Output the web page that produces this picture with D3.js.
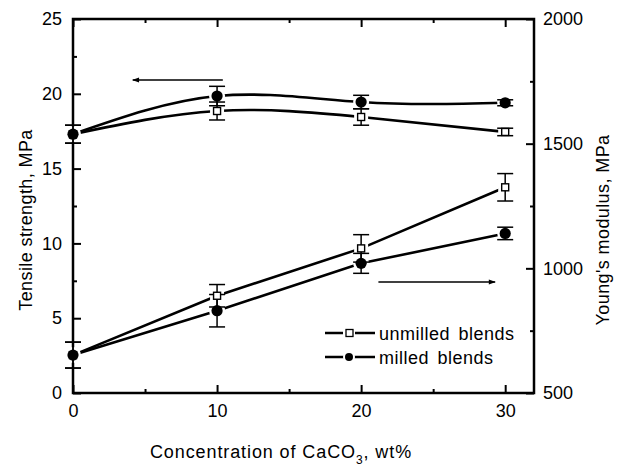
<!DOCTYPE html>
<html>
<head>
<meta charset="utf-8">
<script src="https://cdn.jsdelivr.net/npm/d3@7"></script>
<style>
  body { margin: 0; background: #fff; }
  svg { font-family: "Liberation Sans", Arial, sans-serif; }
</style>
</head>
<body>
<div id="chart"></div>
<script>
// CaCO3 content of the blends, wt%
let concentration = [0, 10, 20, 30];

// tensile strength (left axis), MPa
let tensileUnmilled    = [17.3, 18.85, 18.45, 17.45];
let tensileUnmilledErr = [0.6, 0.6, 0.55, 0.25];
let tensileMilled      = [17.3, 19.85, 19.45, 19.4];
let tensileMilledErr   = [0.6, 0.65, 0.45, 0.2];

// Young's modulus (right axis), MPa
let modulusUnmilled    = [652, 890, 1080, 1325];
let modulusUnmilledErr = [52, 45, 55, 55];
let modulusMilled      = [652, 830, 1020, 1140];
let modulusMilledErr   = [52, 65, 40, 25];

let xTicks = [0, 10, 20, 30];
let leftTicks = [0, 5, 10, 15, 20, 25];
let rightTicks = [500, 1000, 1500, 2000];

let legendLabels = ["unmilled blends", "milled blends"];

// arrows pointing to the axis each pair of curves belongs to: [x0, x1, value]
let tensileArrow = [10.4, 4.15, 20.92];
let modulusArrow = [21.2, 29.3, 945];

let width = 621, height = 468;
let margin = {top: 19, right: 87, bottom: 75, left: 73};

let svg = d3.select("#chart").append("svg")
    .attr("width", width)
    .attr("height", height);

svg.append("defs").append("marker")
    .attr("id", "head")
    .attr("viewBox", "0 0 10 10")
    .attr("refX", 9).attr("refY", 5)
    .attr("markerWidth", 9).attr("markerHeight", 7)
    .attr("markerUnits", "userSpaceOnUse")
    .attr("orient", "auto")
    .append("path")
    .attr("d", "M0,1.5 L10,5 L0,8.5 Z")
    .attr("fill", "#000");

let x = d3.scaleLinear().domain([0, 32]).range([margin.left, width - margin.right]);
let yL = d3.scaleLinear().domain([0, 25]).range([height - margin.bottom, margin.top]);
let yR = d3.scaleLinear().domain([500, 2000]).range([height - margin.bottom, margin.top]);

let tickFont = "18px";

function styleAxis(g) {
    g.select(".domain").remove();
    g.selectAll(".tick line").attr("stroke", "#000").attr("stroke-width", 2);
    g.selectAll("text").attr("fill", "#000").style("font-size", tickFont);
}

// bottom / top
svg.append("g")
    .attr("transform", `translate(0,${yL(0)})`)
    .call(d3.axisBottom(x).tickValues(xTicks).tickSize(-8).tickPadding(11))
    .call(styleAxis);
svg.append("g")
    .attr("transform", `translate(0,${yL(0)})`)
    .call(d3.axisBottom(x).tickValues([5, 15, 25]).tickSize(-4).tickFormat(""))
    .call(styleAxis);
svg.append("g")
    .attr("transform", `translate(0,${yL(25)})`)
    .call(d3.axisTop(x).tickValues(xTicks).tickSize(-8).tickFormat(""))
    .call(styleAxis);
svg.append("g")
    .attr("transform", `translate(0,${yL(25)})`)
    .call(d3.axisTop(x).tickValues([5, 15, 25]).tickSize(-4).tickFormat(""))
    .call(styleAxis);

// left
svg.append("g")
    .attr("transform", `translate(${x(0)},0)`)
    .call(d3.axisLeft(yL).tickValues(leftTicks).tickSize(-8).tickPadding(11))
    .call(styleAxis);
svg.append("g")
    .attr("transform", `translate(${x(0)},0)`)
    .call(d3.axisLeft(yL).tickValues([2.5, 7.5, 12.5, 17.5, 22.5]).tickSize(-4).tickFormat(""))
    .call(styleAxis);

// right
svg.append("g")
    .attr("transform", `translate(${x(32)},0)`)
    .call(d3.axisRight(yR).tickValues(rightTicks).tickSize(-8).tickPadding(9).tickFormat(d3.format("d")))
    .call(styleAxis);
svg.append("g")
    .attr("transform", `translate(${x(32)},0)`)
    .call(d3.axisRight(yR).tickValues([750, 1250, 1750]).tickSize(-4).tickFormat(""))
    .call(styleAxis);

// frame
svg.append("rect")
    .attr("x", x(0)).attr("y", yL(25))
    .attr("width", x(32) - x(0)).attr("height", yL(0) - yL(25))
    .attr("fill", "none")
    .attr("stroke", "#000")
    .attr("stroke-width", 2.5);

// axis titles
svg.append("text")
    .attr("transform", `translate(32,${(yL(0) + yL(25)) / 2 + 14}) rotate(-90)`)
    .attr("text-anchor", "middle")
    .style("font-size", "18px")
    .style("letter-spacing", "0.4px")
    .text("Tensile strength, MPa");

svg.append("text")
    .attr("transform", `translate(609,${(yL(0) + yL(25)) / 2 + 24}) rotate(-90)`)
    .attr("text-anchor", "middle")
    .style("font-size", "18px")
    .style("letter-spacing", "0.4px")
    .text("Young's modulus, MPa");

let xTitle = svg.append("text")
    .attr("x", 281).attr("y", 458)
    .attr("text-anchor", "middle")
    .style("font-size", "18px")
    .style("letter-spacing", "0.9px");
xTitle.append("tspan").text("Concentration of CaCO");
xTitle.append("tspan").attr("dy", 6).style("font-size", "12px").text("3");
xTitle.append("tspan").attr("dy", -6).text(", wt%");

// series
let series = [
    {vals: tensileUnmilled, err: tensileUnmilledErr, y: yL, filled: false, curve: d3.curveNatural},
    {vals: tensileMilled,   err: tensileMilledErr,   y: yL, filled: true,  curve: d3.curveNatural},
    {vals: modulusUnmilled, err: modulusUnmilledErr, y: yR, filled: false, curve: d3.curveLinear},
    {vals: modulusMilled,   err: modulusMilledErr,   y: yR, filled: true,  curve: d3.curveLinear}
];

series.forEach(function(s) {
    let line = d3.line()
        .x((d, i) => x(concentration[i]))
        .y(d => s.y(d))
        .curve(s.curve);
    svg.append("path")
        .datum(s.vals)
        .attr("d", line)
        .attr("fill", "none")
        .attr("stroke", "#000")
        .attr("stroke-width", 2.6);
});

// white halo so the curves stop short of the markers
series.forEach(function(s) {
    s.vals.forEach(function(v, i) {
        let cx = x(concentration[i]), cy = s.y(v);
        if (s.filled) {
            svg.append("circle").attr("cx", cx).attr("cy", cy).attr("r", 8).attr("fill", "#fff");
        } else {
            svg.append("rect").attr("x", cx - 7).attr("y", cy - 7).attr("width", 14).attr("height", 14).attr("fill", "#fff");
        }
    });
});

// error bars
series.forEach(function(s) {
    s.vals.forEach(function(v, i) {
        let cx = x(concentration[i]);
        let top = s.y(v + s.err[i]), bot = s.y(v - s.err[i]);
        let g = svg.append("g").attr("stroke", "#000").attr("stroke-width", 1.5);
        g.append("line").attr("x1", cx).attr("x2", cx).attr("y1", top).attr("y2", bot);
        g.append("line").attr("x1", cx - 8).attr("x2", cx + 8).attr("y1", top).attr("y2", top);
        g.append("line").attr("x1", cx - 8).attr("x2", cx + 8).attr("y1", bot).attr("y2", bot);
    });
});

// markers, open squares under filled circles
series.filter(s => !s.filled).concat(series.filter(s => s.filled)).forEach(function(s) {
    s.vals.forEach(function(v, i) {
        let cx = x(concentration[i]), cy = s.y(v);
        if (s.filled) {
            svg.append("circle").attr("cx", cx).attr("cy", cy).attr("r", 5.6).attr("fill", "#000");
        } else {
            svg.append("rect").attr("x", cx - 3.5).attr("y", cy - 3.5).attr("width", 7).attr("height", 7)
                .attr("fill", "#fff").attr("stroke", "#000").attr("stroke-width", 1.4);
        }
    });
});

// arrows
[[tensileArrow, yL], [modulusArrow, yR]].forEach(function(a) {
    let arr = a[0], sc = a[1];
    svg.append("line")
        .attr("x1", x(arr[0])).attr("x2", x(arr[1]))
        .attr("y1", sc(arr[2])).attr("y2", sc(arr[2]))
        .attr("stroke", "#000")
        .attr("stroke-width", 1.4)
        .attr("marker-end", "url(#head)");
});

// legend
let legend = svg.append("g").attr("transform", "translate(325,333)");
legendLabels.forEach(function(label, i) {
    let row = legend.append("g").attr("transform", `translate(0,${i * 24})`);
    row.append("line").attr("x1", 0).attr("x2", 50).attr("y1", 0).attr("y2", 0)
        .attr("stroke", "#000").attr("stroke-width", 2.6);
    if (i === 1) {
        row.append("circle").attr("cx", 24).attr("cy", 0).attr("r", 6).attr("fill", "#fff");
        row.append("circle").attr("cx", 24).attr("cy", 0).attr("r", 4).attr("fill", "#000");
    } else {
        row.append("rect").attr("x", 18).attr("y", -6).attr("width", 12).attr("height", 12).attr("fill", "#fff");
        row.append("rect").attr("x", 21).attr("y", -3.5).attr("width", 7).attr("height", 7)
            .attr("fill", "#fff").attr("stroke", "#000").attr("stroke-width", 1.3);
    }
    row.append("text")
        .attr("x", 54).attr("y", 6.5)
        .style("font-size", "18px")
        .style("letter-spacing", "0.5px")
        .style("word-spacing", "3px")
        .text(label);
});
</script>
</body>
</html>
